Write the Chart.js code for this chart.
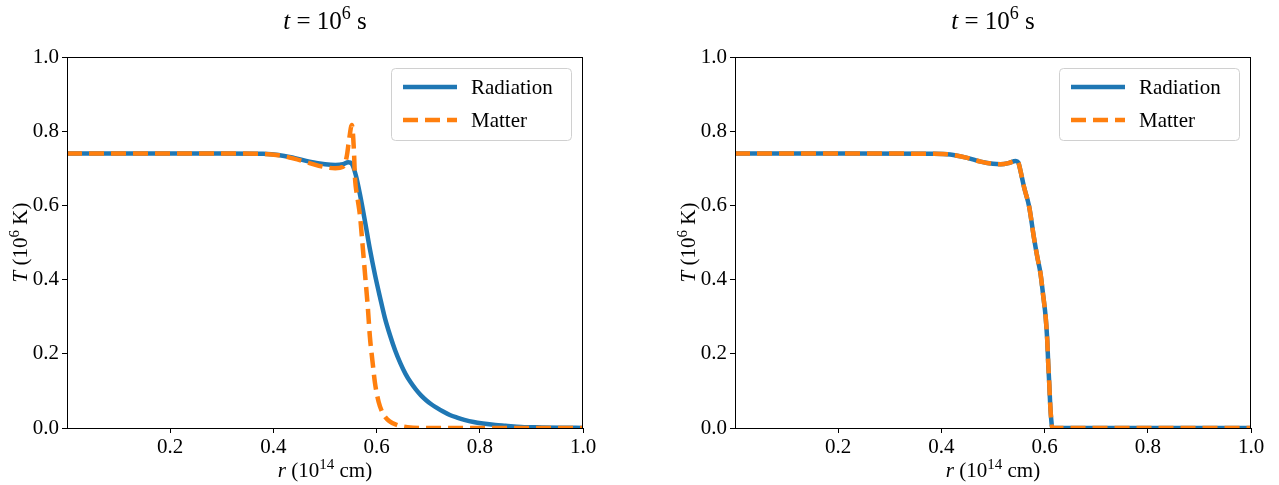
<!DOCTYPE html>
<html>
<head>
<meta charset="utf-8">
<script src="https://cdn.jsdelivr.net/npm/chart.js@4"></script>
<style>
  html, body { margin: 0; padding: 0; background: #fff; }
  .panel { position: absolute; top: 0; width: 600px; height: 485px; }
</style>
</head>
<body>
<div class="panel" style="left:0"><canvas id="left" width="600" height="485"></canvas></div>
<div class="panel" style="left:668px"><canvas id="right" width="600" height="485"></canvas></div>
<script>
// r in 1e14 cm, T in 1e6 K
const xTicks = [0.2, 0.4, 0.6, 0.8, 1.0];
const yTicks = [0.0, 0.2, 0.4, 0.6, 0.8, 1.0];

const leftRadR = [0, 0.1, 0.2, 0.3, 0.38, 0.41, 0.44, 0.47, 0.5, 0.52, 0.535, 0.545, 0.552, 0.56, 0.568, 0.578, 0.587, 0.597, 0.607, 0.616, 0.626, 0.636, 0.646, 0.656, 0.666, 0.676, 0.686, 0.696, 0.706, 0.716, 0.728, 0.742, 0.756, 0.77, 0.788, 0.806, 0.83, 0.85, 0.88, 0.92, 0.96, 1.0];
const leftRadT = [0.740, 0.740, 0.740, 0.740, 0.739, 0.736, 0.728, 0.718, 0.711, 0.709, 0.711, 0.716, 0.712, 0.680, 0.628, 0.553, 0.482, 0.412, 0.350, 0.297, 0.250, 0.209, 0.175, 0.146, 0.123, 0.104, 0.088, 0.075, 0.064, 0.055, 0.045, 0.035, 0.028, 0.022, 0.016, 0.012, 0.008, 0.006, 0.003, 0.0015, 0.0007, 0.0003];

const leftMatR = [0, 0.1, 0.2, 0.3, 0.38, 0.41, 0.44, 0.47, 0.5, 0.52, 0.535, 0.542, 0.547, 0.552, 0.556, 0.558, 0.563, 0.568, 0.573, 0.578, 0.583, 0.587, 0.592, 0.597, 0.604, 0.612, 0.625, 0.64, 0.66, 0.7, 1.0];
const leftMatT = [0.740, 0.740, 0.740, 0.740, 0.739, 0.735, 0.726, 0.714, 0.703, 0.700, 0.704, 0.731, 0.78, 0.817, 0.75, 0.677, 0.62, 0.57, 0.49, 0.408, 0.325, 0.246, 0.18, 0.12, 0.07, 0.04, 0.018, 0.008, 0.002, 0.0, 0.0];

const rightRadR = [0, 0.2, 0.38, 0.417, 0.45, 0.476, 0.5, 0.515, 0.53, 0.544, 0.549, 0.553, 0.56, 0.57, 0.579, 0.586, 0.592, 0.597, 0.602, 0.605, 0.607, 0.609, 0.611, 0.613, 0.615, 0.7, 1.0];
const rightRadT = [0.740, 0.740, 0.739, 0.737, 0.728, 0.718, 0.712, 0.711, 0.714, 0.720, 0.716, 0.695, 0.65, 0.597, 0.516, 0.46, 0.417, 0.36, 0.30, 0.24, 0.175, 0.12, 0.06, 0.02, 0.0, 0.0, 0.0];

const rightMatR = [0, 0.2, 0.38, 0.417, 0.45, 0.476, 0.5, 0.515, 0.53, 0.544, 0.549, 0.553, 0.56, 0.57, 0.579, 0.586, 0.592, 0.597, 0.602, 0.605, 0.607, 0.609, 0.611, 0.613, 0.615, 0.7, 1.0];
const rightMatT = [0.740, 0.740, 0.739, 0.737, 0.728, 0.718, 0.712, 0.711, 0.714, 0.720, 0.716, 0.695, 0.65, 0.597, 0.516, 0.46, 0.417, 0.36, 0.30, 0.24, 0.175, 0.12, 0.06, 0.02, 0.0, 0.0, 0.0];

const SERIF = "'Liberation Serif', 'DejaVu Serif', serif";

const pts = (xs, ys) => xs.map((x, i) => ({ x: x, y: ys[i] }));

// draw text with italic / superscript pieces
function drawRich(ctx, parts, cx, cy, size, rotate) {
  const fontOf = p => (p.it ? "italic " : "") + (p.sup ? Math.round(size * 0.7) : size) + "px " + SERIF;
  ctx.save();
  ctx.translate(cx, cy);
  if (rotate) ctx.rotate(-Math.PI / 2);
  const widths = parts.map(p => { ctx.font = fontOf(p); return ctx.measureText(p.t).width; });
  let x = -widths.reduce((a, b) => a + b, 0) / 2;
  ctx.fillStyle = "#000";
  ctx.textAlign = "left";
  ctx.textBaseline = "alphabetic";
  parts.forEach((p, i) => {
    ctx.font = fontOf(p);
    ctx.fillText(p.t, x, p.sup ? -size * 0.4 : 0);
    x += widths[i];
  });
  ctx.restore();
}

const framePlugin = {
  id: "frame",
  afterDatasetsDraw(chart) {
    const a = chart.chartArea, ctx = chart.ctx;
    ctx.save();
    ctx.strokeStyle = "#000";
    ctx.lineWidth = 1;
    ctx.strokeRect(a.left + 0.5, a.top + 0.5, a.right - a.left - 1, a.bottom - a.top);
    ctx.restore();
  }
};

const legendPlugin = {
  id: "boxLegend",
  afterDraw(chart) {
    const a = chart.chartArea, ctx = chart.ctx;
    const w = 180, h = 72;
    const x = a.right - 12 - w, y = a.top + 11;
    ctx.save();
    ctx.beginPath();
    ctx.roundRect(x + 0.5, y + 0.5, w, h, 4);
    ctx.fillStyle = "rgba(255,255,255,0.8)";
    ctx.fill();
    ctx.strokeStyle = "#d0d0d0";
    ctx.lineWidth = 1;
    ctx.stroke();
    chart.data.datasets.forEach((ds, i) => {
      const ly = y + 19 + i * 33;
      ctx.beginPath();
      ctx.setLineDash(ds.borderDash || []);
      ctx.strokeStyle = ds.borderColor;
      ctx.lineWidth = ds.borderWidth;
      ctx.moveTo(x + 12, ly);
      ctx.lineTo(x + 66, ly);
      ctx.stroke();
      ctx.setLineDash([]);
      ctx.fillStyle = "#000";
      ctx.font = "21px " + SERIF;
      ctx.textBaseline = "middle";
      ctx.fillText(ds.label, x + 80, ly + 1);
    });
    ctx.restore();
  }
};

const textPlugin = {
  id: "labels",
  afterDraw(chart) {
    const a = chart.chartArea, ctx = chart.ctx;
    const cx = (a.left + a.right) / 2;
    drawRich(ctx, [{ t: "t", it: true }, { t: " = 10" }, { t: "6", sup: true }, { t: " s" }], cx, 29, 25);
    drawRich(ctx, [{ t: "r", it: true }, { t: " (10" }, { t: "14", sup: true }, { t: " cm)" }], cx, 477, 21);
    drawRich(ctx, [{ t: "T", it: true }, { t: " (10" }, { t: "6", sup: true }, { t: " K)" }], 27, (a.top + a.bottom) / 2, 21, true);
  }
};

function makeChart(id, rad, mat) {
  return new Chart(document.getElementById(id), {
    type: "line",
    data: {
      datasets: [
        { label: "Radiation", data: rad, borderColor: "#1f77b4", borderWidth: 4.5, pointRadius: 0, fill: false, cubicInterpolationMode: "monotone", order: 1 },
        { label: "Matter", data: mat, borderColor: "#ff7f0e", borderWidth: 4.5, borderDash: [15, 7], pointRadius: 0, fill: false, cubicInterpolationMode: "monotone", order: 0 }
      ]
    },
    options: {
      responsive: false,
      animation: false,
      events: [],
      layout: { padding: { top: 57, right: 17, left: 0, bottom: 0 } },
      plugins: { legend: { display: false }, tooltip: { enabled: false } },
      scales: {
        x: {
          type: "linear", min: 0, max: 1,
          afterBuildTicks: s => { s.ticks = xTicks.map(v => ({ value: v })); },
          afterFit: s => { s.height = 57; },
          grid: { display: true, drawOnChartArea: false, drawTicks: true, tickLength: 5, color: "#000" },
          border: { display: true, color: "#000" },
          ticks: { color: "#000", font: { family: SERIF, size: 21 }, padding: 2, maxRotation: 0, callback: v => v.toFixed(1) }
        },
        y: {
          min: 0, max: 1,
          afterBuildTicks: s => { s.ticks = yTicks.map(v => ({ value: v })); },
          afterFit: s => { s.width = 67; },
          grid: { display: true, drawOnChartArea: false, drawTicks: true, tickLength: 5, color: "#000" },
          border: { display: true, color: "#000" },
          ticks: { color: "#000", font: { family: SERIF, size: 21 }, padding: 3, callback: v => v.toFixed(1) }
        }
      }
    },
    plugins: [framePlugin, legendPlugin, textPlugin]
  });
}

makeChart("left", pts(leftRadR, leftRadT), pts(leftMatR, leftMatT));
makeChart("right", pts(rightRadR, rightRadT), pts(rightMatR, rightMatT));
</script>
</body>
</html>
